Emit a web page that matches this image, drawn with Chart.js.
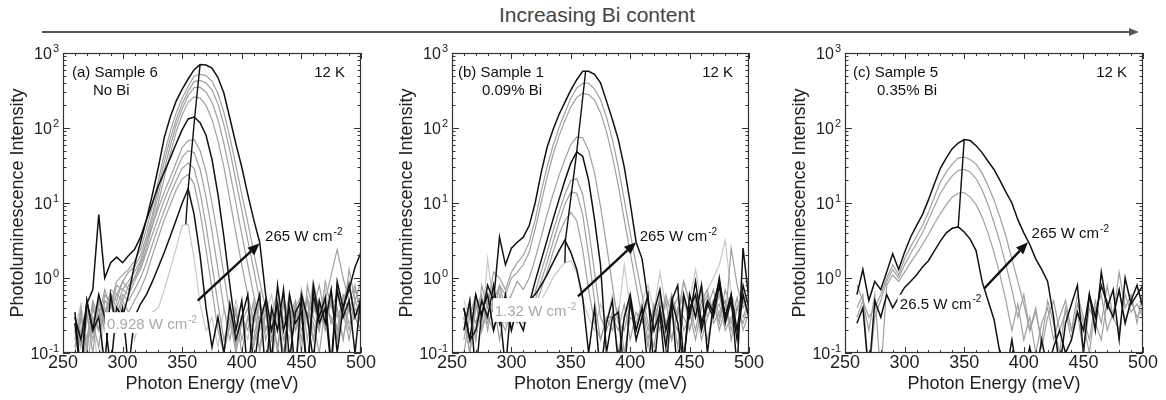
<!DOCTYPE html>
<html>
<head>
<meta charset="utf-8">
<title>PL spectra vs Bi content</title>
<script src="https://cdn.jsdelivr.net/npm/chart.js@4.4.0/dist/chart.umd.min.js"></script>
<style>
  body { margin: 0; background: #fff; }
  #wrap { position: relative; width: 1166px; height: 400px; overflow: hidden; font-family: "Liberation Sans", Arial, sans-serif; }
  #wrap canvas { position: absolute; top: 0; }
  #topTitle { position: absolute; left: 597px; top: 3px; transform: translateX(-50%); font-size: 21px; color: #444; white-space: nowrap; }
  #topLine { position: absolute; left: 42px; top: 31px; width: 1088px; height: 2px; background: #555; }
  #topHead { position: absolute; left: 1129px; top: 27.5px; width: 0; height: 0; border-left: 10px solid #555; border-top: 4.5px solid transparent; border-bottom: 4.5px solid transparent; }
</style>
</head>
<body>
<div id="wrap">
  <div id="topTitle">Increasing Bi content</div>
  <div id="topLine"></div>
  <div id="topHead"></div>
  <canvas id="chartA" width="390" height="400" style="left:0px"></canvas>
  <canvas id="chartB" width="390" height="400" style="left:390px"></canvas>
  <canvas id="chartC" width="386" height="400" style="left:780px"></canvas>
</div>
<script>
const FONT = '"Liberation Sans", Arial, sans-serif';

// photon energy grid (meV)
const energy = [260, 265, 270, 275, 280, 285, 290, 295, 300, 305,
                310, 315, 320, 325, 330, 335, 340, 345, 350, 355,
                360, 365, 370, 375, 380, 385, 390, 395, 400, 405,
                410, 415, 420, 425, 430, 435, 440, 445, 450, 455,
                460, 465, 470, 475, 480, 485, 490, 495, 500];

// axis ticks
const xTickValues = [250, 300, 350, 400, 450, 500];
const xMinorStep = 10;
const yDecades = [0.1, 1, 10, 100, 1000];
const yExponents = ['-1', '0', '1', '2', '3'];
const minorMultipliers = [2, 3, 4, 5, 6, 7, 8, 9];

// ---- (a) Sample 6, no Bi : spectra from 0.928 to 265 W cm-2 ----
const a265 = [0.3, 0.15, 0.45, 0.7, 7, 1.0, 1.6, 1.9, 1.6, 2.0,
              2.4, 3.5, 6, 13, 30, 75, 140, 230, 330, 450,
              600, 700, 690, 630, 470, 290, 135, 62, 30, 13,
              6, 3, 0.6, 0.2, 0.45, 0.06, 0.6, 0.25, 0.35, 0.05,
              0.8, 0.3, 0.55, 0.07, 0.9, 0.4, 0.7, 1.4, 2.2];
const a520 = [0.1, 0.3, 0.12, 0.4, 0.2, 0.6, 0.45, 0.9, 1.1, 1.3,
              1.7, 2.4, 4.5, 9, 20, 45, 90, 160, 250, 360,
              490, 520, 500, 420, 290, 160, 75, 32, 13, 5.5,
              2.2, 0.9, 0.4, 0.15, 0.5, 0.2, 0.07, 0.4, 0.6, 0.25,
              0.9, 0.35, 0.5, 1.1, 2.4, 1.0, 0.5, 0.8, 0.3];
const a430 = [0.05, 0.2, 0.35, 0.1, 0.5, 0.3, 0.7, 0.6, 0.9, 1.2,
              1.4, 2.0, 3.6, 7, 16, 36, 72, 130, 210, 310,
              415, 430, 400, 320, 210, 110, 50, 20, 8, 3.2,
              1.3, 0.5, 0.2, 0.35, 0.1, 0.45, 0.25, 0.06, 0.7, 0.3,
              0.5, 0.2, 0.9, 0.4, 0.6, 0.3, 1.3, 0.5, 0.9];
const a350 = [0.2, 0.05, 0.3, 0.25, 0.12, 0.5, 0.4, 0.8, 0.7, 0.9,
              1.2, 1.7, 3, 6, 13, 28, 58, 110, 180, 270,
              345, 350, 300, 220, 130, 62, 26, 10, 3.8, 1.5,
              0.6, 0.25, 0.4, 0.07, 0.3, 0.6, 0.2, 0.45, 0.1, 0.8,
              0.35, 0.5, 0.25, 0.7, 0.15, 0.5, 0.9, 0.3, 0.6];
const a260 = [0.12, 0.4, 0.05, 0.3, 0.2, 0.35, 0.6, 0.5, 0.9, 0.7,
              1.0, 1.4, 2.5, 5, 10, 22, 45, 90, 150, 220,
              260, 250, 200, 130, 68, 30, 11, 4, 1.5, 0.6,
              0.25, 0.5, 0.15, 0.3, 0.7, 0.2, 0.5, 0.3, 0.6, 0.15,
              0.4, 0.8, 0.3, 0.5, 0.2, 0.6, 0.35, 0.7, 0.4];
const a140 = [0.25, 0.05, 0.5, 0.2, 0.6, 0.3, 0.06, 0.4, 0.3, 0.6,
              1.5, 3, 6, 10, 17, 26, 40, 62, 95, 132,
              140, 118, 80, 38, 13, 3.5, 0.8, 0.2, 0.5, 0.05,
              0.3, 0.6, 0.05, 0.4, 0.2, 0.7, 0.08, 0.35, 0.5, 0.05,
              0.6, 0.25, 0.4, 0.06, 0.7, 0.3, 0.5, 0.1, 0.6];
const a75 = [0.05, 0.3, 0.15, 0.5, 0.3, 0.7, 0.4, 0.6, 0.5, 0.8,
             1.0, 1.6, 3, 5, 8.5, 14, 22, 35, 55, 68,
             70, 50, 26, 10, 3.5, 1.1, 0.35, 0.12, 0.3, 0.2,
             0.5, 0.1, 0.35, 0.15, 0.4, 0.25, 0.6, 0.2, 0.3, 0.5,
             0.15, 0.4, 0.2, 0.6, 0.3, 0.45, 0.2, 0.5, 0.3];
const a51 = [0.3, 0.12, 0.4, 0.2, 0.5, 0.25, 0.6, 0.4, 0.7, 0.6,
             0.9, 1.3, 2.2, 3.8, 6.5, 11, 17, 27, 41, 50,
             47, 28, 12, 4.2, 1.3, 0.4, 0.15, 0.35, 0.1, 0.3,
             0.15, 0.45, 0.2, 0.35, 0.12, 0.5, 0.25, 0.4, 0.15, 0.55,
             0.3, 0.2, 0.5, 0.25, 0.4, 0.15, 0.45, 0.3, 0.2];
const a34 = [0.15, 0.35, 0.1, 0.45, 0.2, 0.3, 0.55, 0.3, 0.6, 0.5,
             0.7, 1.0, 1.6, 2.8, 4.8, 8, 13, 20, 29, 34,
             29, 14, 5, 1.5, 0.45, 0.15, 0.3, 0.1, 0.25, 0.4,
             0.12, 0.3, 0.5, 0.2, 0.35, 0.1, 0.4, 0.2, 0.5, 0.3,
             0.15, 0.4, 0.25, 0.5, 0.2, 0.35, 0.15, 0.4, 0.25];
const a24 = [0.25, 0.06, 0.3, 0.15, 0.4, 0.2, 0.45, 0.25, 0.5, 0.35,
             0.5, 0.7, 1.1, 2, 3.5, 6, 9.5, 15, 21, 24,
             18, 7.5, 2.4, 0.7, 0.2, 0.1, 0.25, 0.4, 0.15, 0.3,
             0.2, 0.12, 0.35, 0.2, 0.45, 0.15, 0.3, 0.5, 0.2, 0.35,
             0.25, 0.1, 0.4, 0.3, 0.15, 0.45, 0.25, 0.3, 0.2];
const a16 = [0.35, 0.05, 0.5, 0.2, 0.3, 0.07, 0.6, 0.2, 0.4, 0.06,
             0.3, 0.45, 0.6, 0.9, 1.4, 2.2, 3.6, 6, 10, 15.5,
             7, 2, 0.4, 0.12, 0.3, 0.1, 0.45, 0.15, 0.3, 0.6,
             0.06, 0.25, 0.5, 0.08, 0.8, 0.2, 0.4, 0.05, 0.6, 0.3,
             0.08, 0.5, 0.25, 0.7, 0.1, 0.4, 0.8, 0.3, 0.5];
const a6 = [0.2, 0.45, 0.15, 0.3, 0.05, 0.4, 0.25, 0.5, 0.2, 0.35,
            0.15, 0.3, 0.25, 0.35, 0.4, 0.7, 1.3, 2.5, 5, 5.2,
            1.8, 0.45, 0.2, 0.3, 0.12, 0.4, 0.2, 0.5, 0.25, 0.15,
            0.4, 0.2, 0.35, 0.6, 0.2, 0.3, 0.15, 0.45, 0.25, 0.5,
            0.2, 0.35, 0.7, 0.25, 0.4, 0.15, 0.5, 0.3, 0.2];
const traceAx = [353, 355, 360.5, 365];
const traceAy = [5.2, 15.5, 140, 700];
const arrowA = [363, 0.5, 415, 2.9];

// ---- (b) Sample 1, 0.09% Bi : 1.32 to 265 W cm-2 ----
const b575 = [0.4, 0.15, 0.6, 0.3, 0.8, 0.5, 3.5, 1.5, 2.5, 3,
              3.5, 5, 10, 25, 55, 95, 150, 220, 320, 440,
              570, 570, 520, 400, 230, 130, 70, 30, 10, 3,
              1.8, 0.5, 0.2, 0.35, 0.05, 0.5, 0.25, 0.07, 0.6, 0.3,
              0.8, 0.1, 0.45, 0.9, 0.3, 0.6, 0.06, 2.5, 0.5];
const b400 = [0.2, 0.5, 0.15, 0.8, 0.4, 1.2, 1.0, 0.7, 1.2, 1.6,
              2.0, 3, 6, 14, 30, 58, 100, 160, 250, 340,
              395, 395, 330, 240, 140, 70, 30, 11, 4, 1.5,
              0.6, 0.25, 0.12, 0.4, 0.2, 0.6, 0.3, 0.9, 0.45, 0.2,
              0.5, 0.7, 0.3, 0.6, 0.25, 2.5, 0.8, 0.4, 0.6];
const b290 = [0.1, 0.3, 0.6, 0.2, 0.5, 0.35, 0.8, 0.6, 1.0, 1.2,
              1.5, 2.2, 4.5, 10, 22, 44, 78, 125, 190, 255,
              290, 280, 235, 160, 90, 42, 17, 6, 2.2, 0.8,
              0.3, 0.12, 0.4, 0.2, 0.5, 0.15, 0.35, 0.6, 0.2, 0.4,
              0.8, 0.3, 0.5, 0.25, 0.7, 0.4, 0.2, 0.5, 0.3];
const b80 = [0.3, 0.1, 0.4, 0.6, 0.2, 0.5, 0.8, 0.4, 0.6, 0.9,
             0.7, 1.0, 1.8, 3.5, 7, 13, 23, 38, 60, 76,
             74, 50, 25, 9, 2.8, 0.8, 0.25, 0.2, 0.45, 0.15,
             0.3, 0.5, 0.2, 0.6, 0.25, 0.4, 0.12, 0.5, 0.3, 0.6,
             0.2, 0.4, 0.7, 0.3, 0.5, 0.15, 0.4, 0.6, 0.3];
const b50 = [0.2, 0.5, 0.05, 0.35, 0.6, 0.2, 0.4, 0.06, 0.5, 0.3,
             0.2, 0.45, 0.9, 1.7, 3.2, 6, 11, 20, 34, 48,
             42, 20, 6, 1.5, 0.1, 0.3, 0.35, 0.05, 0.5, 0.15,
             0.3, 0.6, 0.06, 0.4, 0.12, 0.5, 0.8, 0.08, 0.4, 0.6,
             0.2, 0.45, 0.3, 0.8, 0.25, 0.5, 0.15, 0.6, 0.3];
const b22 = [0.15, 0.4, 0.25, 0.5, 0.3, 0.2, 0.6, 0.35, 0.2, 0.5,
             0.3, 0.4, 0.65, 1.2, 2.2, 4.2, 7.5, 13, 20, 21,
             13, 4.5, 1.2, 0.3, 0.2, 0.35, 0.1, 0.3, 0.5, 0.2,
             0.4, 0.15, 0.45, 0.25, 0.6, 0.3, 0.2, 0.5, 0.35, 0.15,
             0.4, 0.6, 0.25, 0.35, 0.5, 0.2, 0.4, 0.3, 0.5];
const b15 = [0.3, 0.1, 0.45, 0.2, 0.35, 0.5, 0.15, 0.4, 0.3, 0.25,
             0.45, 0.3, 0.5, 0.9, 1.6, 3, 5.5, 9.5, 14, 13.5,
             7, 2, 0.5, 0.15, 0.3, 0.3, 0.2, 0.45, 0.15, 0.35,
             0.25, 0.5, 0.2, 0.4, 0.15, 0.35, 0.55, 0.2, 0.3, 0.45,
             0.15, 0.3, 0.5, 0.2, 0.4, 0.25, 0.55, 0.2, 0.35];
const b7 = [0.25, 0.35, 0.15, 0.5, 0.25, 0.4, 0.3, 0.2, 0.4, 0.35,
            0.25, 0.3, 0.4, 0.7, 1.2, 2.2, 3.8, 5.8, 7.5, 5.8,
            2.4, 0.7, 0.25, 0.15, 0.3, 0.2, 0.4, 0.1, 0.3, 0.25,
            0.45, 0.2, 0.3, 0.5, 0.25, 0.15, 0.4, 0.3, 0.2, 0.5,
            0.3, 0.15, 0.35, 0.45, 0.2, 0.3, 0.4, 0.25, 0.45];
const b3 = [0.4, 0.15, 0.2, 0.5, 0.3, 0.8, 0.25, 0.6, 0.2, 0.4,
            0.3, 0.5, 0.6, 0.8, 1.1, 1.6, 2.3, 3.2, 2.2, 1.3,
            0.55, 0.1, 0.4, 0.05, 0.25, 0.5, 0.07, 0.3, 0.6, 0.2,
            0.4, 0.06, 0.35, 0.7, 0.2, 0.45, 0.05, 0.6, 0.3, 0.9,
            0.25, 0.5, 0.35, 1.0, 0.3, 0.6, 0.2, 0.8, 0.4];
const b1 = [0.5, 0.3, 0.6, 0.2, 1.8, 0.4, 0.7, 0.25, 0.5, 0.35,
            0.3, 0.4, 0.35, 0.5, 0.7, 1.0, 1.3, 1.6, 1.7, 1.2,
            0.5, 0.3, 0.2, 0.45, 0.25, 0.6, 0.3, 1.5, 0.4, 0.2,
            0.5, 0.8, 0.35, 1.2, 0.4, 0.6, 0.3, 0.9, 0.5, 1.3,
            0.45, 0.7, 1.0, 1.5, 3.2, 0.6, 0.4, 0.7, 0.3];
const traceBx = [345, 345.5, 355, 362.5];
const traceBy = [1.6, 3.2, 48, 575];
const arrowB = [356, 0.57, 405, 3];

// ---- (c) Sample 5, 0.35% Bi : 26.5 to 265 W cm-2 ----
const c265 = [0.6, 1.3, 0.5, 0.9, 0.7, 1.2, 2.1, 1.3, 2.2, 3.5,
              5, 7, 11, 18, 29, 40, 53, 63, 70, 68,
              58, 47, 36, 28, 20, 14, 10, 6, 4, 2.8,
              1.8, 1.3, 0.9, 0.3, 0.06, 0.25, 0.45, 0.8, 0.1, 0.6,
              0.2, 1.2, 0.4, 0.7, 0.15, 1.0, 0.45, 0.6, 0.8];
const c42 = [0.8, 0.5, 0.3, 0.4, 0.6, 1.0, 1.5, 1.1, 1.8, 2.6,
             3.6, 5, 7.5, 12, 19, 26, 33, 40, 41, 38,
             33, 25, 17, 11, 6.5, 3.6, 1.8, 0.9, 0.45, 0.2,
             0.35, 0.15, 0.5, 0.25, 0.1, 0.4, 0.2, 0.6, 0.3, 0.15,
             0.5, 0.25, 0.8, 0.3, 1.2, 0.4, 0.6, 0.25, 0.7];
const c29 = [0.4, 0.6, 0.05, 0.3, 0.5, 0.9, 1.3, 1.0, 1.5, 2.1,
             2.9, 4, 6, 9, 13.5, 18, 23, 27, 28, 26,
             21, 15, 9.5, 5.5, 3, 1.5, 0.7, 0.3, 0.6, 0.2,
             0.4, 0.12, 0.3, 0.5, 0.2, 0.35, 0.15, 0.45, 0.25, 0.1,
             0.4, 0.6, 0.2, 0.35, 0.7, 0.25, 0.5, 0.3, 0.4];
const c14 = [0.3, 0.5, 0.2, 0.6, 0.05, 0.8, 1.1, 0.9, 1.2, 1.6,
             2.1, 2.8, 3.8, 5.3, 7.2, 9.5, 12, 13.5, 13.8, 12,
             9.5, 6.5, 4, 2.2, 1.1, 0.5, 0.2, 0.45, 0.15, 0.3,
             0.1, 0.25, 0.4, 0.15, 0.3, 0.5, 0.2, 0.35, 0.1, 0.4,
             0.25, 0.15, 0.5, 0.3, 0.2, 0.6, 0.35, 0.45, 0.3];
const c5 = [0.25, 0.4, 0.05, 0.5, 0.3, 0.6, 0.4, 0.55, 0.75, 0.9,
            1.1, 1.4, 1.7, 2.3, 3.1, 4, 4.6, 4.8, 4.1, 3.3,
            2.3, 0.9, 0.5, 0.28, 0.1, 0.05, 0.15, 0.05, 0.05, 0.12,
            0.05, 0.15, 0.06, 0.12, 0.2, 0.1, 0.15, 0.35, 0.2, 0.6,
            0.3, 0.8, 0.45, 0.3, 0.7, 0.25, 0.5, 0.8, 0.4];
const traceCx = [345, 350];
const traceCy = [4.8, 70];
const arrowC = [366.6, 0.72, 403.5, 3];

const INK = { k: '#111111', g: '#a0a0a0', l: '#c8c8c8' };

const panels = {
    chartA: {
        padLeft: 63, padRight: 29,
        curves: [[a265, 'k'], [a520, 'g'], [a430, 'g'], [a350, 'g'], [a260, 'g'], [a140, 'k'],
                 [a75, 'g'], [a51, 'g'], [a34, 'g'], [a24, 'g'], [a16, 'k'], [a6, 'l']],
        traceX: traceAx, traceY: traceAy, arrow: arrowA,
        tag: '(a) Sample 6', sub: 'No Bi', tagDx: 9, subDx: 30,
        high: { x: 419.5, y: 3.7 },
        low: { text: '0.928', x: 287, y: 0.245, box: [285, 363, 0.35, 0.185], color: '#aaaaaa' }
    },
    chartB: {
        padLeft: 62, padRight: 31,
        curves: [[b575, 'k'], [b400, 'g'], [b290, 'g'], [b80, 'g'], [b50, 'k'],
                 [b22, 'g'], [b15, 'g'], [b7, 'g'], [b3, 'k'], [b1, 'l']],
        traceX: traceBx, traceY: traceBy, arrow: arrowB,
        tag: '(b) Sample 1', sub: '0.09% Bi', tagDx: 6, subDx: 30,
        high: { x: 408, y: 3.7 },
        low: { text: '1.32', x: 286, y: 0.37, box: [284.5, 357.5, 0.54, 0.26], color: '#aaaaaa' }
    },
    chartC: {
        padLeft: 65, padRight: 23,
        curves: [[c265, 'k'], [c42, 'g'], [c29, 'g'], [c14, 'g'], [c5, 'k']],
        traceX: traceCx, traceY: traceCy, arrow: arrowC,
        tag: '(c) Sample 5', sub: '0.35% Bi', tagDx: 8, subDx: 32,
        high: { x: 406.5, y: 4 },
        low: { text: '26.5', x: 296, y: 0.46, box: [294, 366, 0.6, 0.36], color: '#111111' }
    }
};

// text with a raised exponent, baseline at y
function supText(ctx, x, y, base, sup, size, align) {
    const supSize = Math.round(size * 0.68);
    ctx.font = size + 'px ' + FONT;
    const w1 = ctx.measureText(base).width;
    ctx.font = supSize + 'px ' + FONT;
    const w2 = ctx.measureText(sup).width;
    const x0 = align === 'right' ? x - w1 - w2 - 1 : x;
    ctx.textAlign = 'left';
    ctx.textBaseline = 'alphabetic';
    ctx.font = size + 'px ' + FONT;
    ctx.fillText(base, x0, y);
    ctx.font = supSize + 'px ' + FONT;
    ctx.fillText(sup, x0 + w1 + 1, y - size * 0.42);
    return w1 + w2 + 1;
}

function drawArrow(ctx, x1, y1, x2, y2) {
    const ang = Math.atan2(y2 - y1, x2 - x1);
    const head = 12, half = 5;
    const bx = x2 - head * Math.cos(ang), by = y2 - head * Math.sin(ang);
    ctx.strokeStyle = '#111';
    ctx.fillStyle = '#111';
    ctx.lineWidth = 2.4;
    ctx.beginPath();
    ctx.moveTo(x1, y1);
    ctx.lineTo(bx, by);
    ctx.stroke();
    ctx.beginPath();
    ctx.moveTo(x2, y2);
    ctx.lineTo(bx + half * Math.sin(ang), by - half * Math.cos(ang));
    ctx.lineTo(bx - half * Math.sin(ang), by + half * Math.cos(ang));
    ctx.closePath();
    ctx.fill();
}

function tick(ctx, x1, y1, x2, y2) {
    ctx.beginPath();
    ctx.moveTo(x1, y1);
    ctx.lineTo(x2, y2);
    ctx.stroke();
}

const decorPlugin = {
    id: 'decor',
    afterDraw(chart) {
        const p = panels[chart.canvas.id];
        const { ctx, chartArea: a, scales: { x, y } } = chart;
        ctx.save();

        // low-power label on a white box
        ctx.save();
        ctx.beginPath();
        ctx.rect(a.left, a.top, a.right - a.left, a.bottom - a.top);
        ctx.clip();
        const bx1 = x.getPixelForValue(p.low.box[0]), bx2 = x.getPixelForValue(p.low.box[1]);
        const by1 = y.getPixelForValue(p.low.box[2]), by2 = y.getPixelForValue(p.low.box[3]);
        ctx.fillStyle = '#fff';
        ctx.fillRect(bx1, by1, bx2 - bx1, by2 - by1);
        ctx.fillStyle = p.low.color;
        supText(ctx, x.getPixelForValue(p.low.x), y.getPixelForValue(p.low.y) + 5.5, p.low.text + ' W cm', '-2', 15, 'left');

        // arrow from lowest to highest excitation
        drawArrow(ctx, x.getPixelForValue(p.arrow[0]), y.getPixelForValue(p.arrow[1]),
                  x.getPixelForValue(p.arrow[2]), y.getPixelForValue(p.arrow[3]));
        ctx.fillStyle = '#111';
        supText(ctx, x.getPixelForValue(p.high.x), y.getPixelForValue(p.high.y) + 5.5, '265 W cm', '-2', 15, 'left');

        // sample tag and temperature
        ctx.font = '15px ' + FONT;
        ctx.textBaseline = 'middle';
        ctx.textAlign = 'left';
        ctx.fillText(p.tag, a.left + p.tagDx, a.top + 19.5);
        ctx.fillText(p.sub, a.left + p.subDx, a.top + 38);
        ctx.textAlign = 'right';
        ctx.fillText('12 K', a.right - 16, a.top + 19.5);
        ctx.restore();

        // frame
        ctx.strokeStyle = '#333';
        ctx.lineWidth = 1.2;
        ctx.strokeRect(a.left + 0.5, a.top + 0.5, a.right - a.left - 1, a.bottom - a.top - 1);

        // inward ticks
        ctx.lineWidth = 1;
        for (let v = x.min; v <= x.max + 0.001; v += xMinorStep) {
            const px = Math.round(x.getPixelForValue(v)) + 0.5;
            const len = xTickValues.includes(v) ? 6 : 3;
            tick(ctx, px, a.bottom, px, a.bottom - len);
            tick(ctx, px, a.top, px, a.top + len);
        }
        yDecades.forEach((d, i) => {
            const py = Math.round(y.getPixelForValue(d)) + 0.5;
            tick(ctx, a.left, py, a.left + 7, py);
            tick(ctx, a.right, py, a.right - 7, py);
            if (i < yDecades.length - 1) {
                minorMultipliers.forEach(m => {
                    const qy = Math.round(y.getPixelForValue(d * m)) + 0.5;
                    tick(ctx, a.left, qy, a.left + 3.5, qy);
                    tick(ctx, a.right, qy, a.right - 3.5, qy);
                });
            }
        });

        // tick labels
        ctx.fillStyle = '#222';
        ctx.font = '18px ' + FONT;
        ctx.textAlign = 'center';
        ctx.textBaseline = 'alphabetic';
        xTickValues.forEach(v => ctx.fillText(String(v), x.getPixelForValue(v), a.bottom + 15));
        yDecades.forEach((d, i) => {
            supText(ctx, a.left - 4, y.getPixelForValue(d) + 5.5, '10', yExponents[i], 16, 'right');
        });

        // axis titles
        ctx.font = '18px ' + FONT;
        ctx.textAlign = 'center';
        ctx.textBaseline = 'alphabetic';
        ctx.fillText('Photon Energy (meV)', (a.left + a.right) / 2, a.bottom + 36);
        ctx.translate(a.left - 45, (a.top + a.bottom) / 2);
        ctx.rotate(-Math.PI / 2);
        ctx.textBaseline = 'middle';
        ctx.fillText('Photoluminescence Intensity', 0, 0);
        ctx.restore();
    }
};

function makePanel(id) {
    const p = panels[id];
    const datasets = p.curves.map(([values, kind]) => ({
        data: values,
        borderColor: INK[kind],
        borderWidth: kind === 'k' ? 1.5 : 1.2,
        pointRadius: 0,
        tension: 0,
        clip: 0,
        order: kind === 'k' ? 1 : (kind === 'g' ? 2 : 3)
    }));
    datasets.push({
        data: p.traceX.map((v, i) => ({ x: v, y: p.traceY[i] })),
        borderColor: '#111',
        borderWidth: 1.4,
        pointRadius: 0,
        clip: 0,
        order: 0
    });
    new Chart(document.getElementById(id), {
        type: 'line',
        data: { labels: energy, datasets: datasets },
        options: {
            responsive: false,
            animation: false,
            events: [],
            layout: { padding: { left: p.padLeft, right: p.padRight, top: 53, bottom: 47 } },
            plugins: { legend: { display: false }, tooltip: { enabled: false } },
            scales: {
                x: { type: 'linear', display: false, min: 250, max: 500 },
                y: { type: 'logarithmic', display: false, min: 0.1, max: 1000 }
            }
        },
        plugins: [decorPlugin]
    });
}

makePanel('chartA');
makePanel('chartB');
makePanel('chartC');
</script>
</body>
</html>
